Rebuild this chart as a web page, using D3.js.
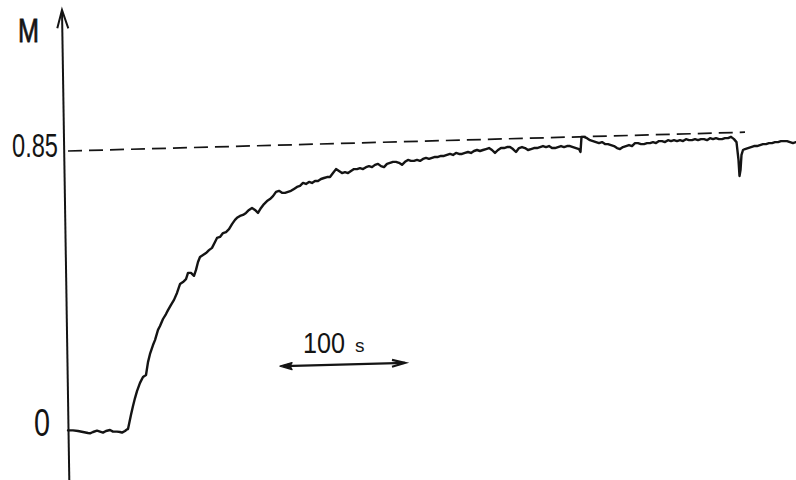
<!DOCTYPE html>
<html>
<head>
<meta charset="utf-8">
<script src="https://cdn.jsdelivr.net/npm/d3@7"></script>
<style>
  html, body { margin: 0; background: #fff; }
  svg { display: block; }
</style>
</head>
<body>
<svg id="chart" width="796" height="480"></svg>
<script>
// Recorded magnetisation trace: [time in s, M]
const trace = [
  [-48,0.002],[-44,0.002],[-40,0],[-36,-0.003],[-32,-0.006],[-30.4,-0.007],[-28,-0.003],
  [-24.8,0.001],[-22.4,-0.002],[-20,-0.005],[-17.6,0],[-14.4,0.003],[-12,-0.002],[-8.8,-0.002],
  [-6.4,-0.003],[-4.8,-0.005],[-2.4,0],[-0.8,0.005],
  [0,0.006],[2.4,0.049],[4,0.076],[5.6,0.100],[7.2,0.121],[9.6,0.146],[12,0.164],[14.4,0.170],
  [16,0.209],[17.6,0.234],[20,0.261],[21.6,0.276],[24,0.307],[25.6,0.319],[28,0.340],[30.4,0.355],
  [32,0.367],[34.4,0.383],[36.8,0.398],[39.2,0.419],[41.6,0.446],[44,0.452],[46.4,0.461],[48,0.480],
  [50.4,0.480],[52.8,0.471],[54.4,0.489],[56,0.513],[57.6,0.528],[60,0.534],[62.4,0.540],[64.8,0.549],
  [67.2,0.556],[69.6,0.574],[71.2,0.586],[73.6,0.589],[76,0.601],[78.4,0.604],[80.8,0.613],[83.2,0.628],
  [85.6,0.641],[87.2,0.647],[89.6,0.653],[92,0.656],[94.4,0.662],[96.8,0.671],[99.2,0.677],[101.6,0.671],
  [104,0.662],[106.4,0.677],[108.8,0.689],[111.2,0.698],[113.6,0.704],[116,0.713],[118.4,0.726],[120.8,0.729],
  [123.2,0.723],[125.6,0.723],[128,0.726],[130.4,0.729],[132.8,0.735],[135.2,0.741],[137.6,0.744],[140,0.753],
  [142.4,0.750],[144.8,0.756],[147.2,0.753],[149.6,0.759],[152,0.759],[154.4,0.765],[156.8,0.768],[159.2,0.771],
  [161.6,0.771],[164,0.783],[166.4,0.795],[168.8,0.789],[171.2,0.783],[173.6,0.786],[176,0.783],[178.4,0.789],
  [180.8,0.795],[183.2,0.795],[185.6,0.798],[188,0.795],[190.4,0.801],[192.8,0.804],[195.2,0.801],[197.6,0.808],
  [200,0.811],[202.4,0.804],[204.8,0.801],[207.2,0.811],[209.6,0.814],[212,0.817],[214.4,0.817],[216.8,0.814],
  [219.2,0.808],[221.6,0.817],[224,0.823],[226.4,0.820],[228.8,0.820],[231.2,0.823],[233.6,0.820],[236,0.826],
  [238.4,0.829],[240.8,0.826],[243.2,0.829],[245.6,0.832],[248,0.832],[250.4,0.835],[252.8,0.835],[255.2,0.838],
  [257.6,0.841],[260,0.838],[262.4,0.844],[264.8,0.841],[267.2,0.841],[269.6,0.844],[272,0.847],[274.4,0.844],
  [276.8,0.850],[279.2,0.853],[281.6,0.850],[284,0.853],[286.4,0.856],[288.8,0.859],[291.2,0.853],[293.6,0.844],
  [296,0.853],[298.4,0.859],[300.8,0.859],[303.2,0.862],[305.6,0.862],[308,0.856],[310.4,0.847],[312.8,0.859],
  [315.2,0.862],[317.6,0.859],[320,0.853],[322.4,0.856],[324.8,0.859],[327.2,0.859],[329.6,0.862],[332,0.865],
  [334.4,0.862],[336.8,0.865],[339.2,0.859],[341.6,0.859],[344,0.862],[346.4,0.865],[348.8,0.862],[351.2,0.865],
  [353.6,0.865],[356,0.862],[358.4,0.859],[360.8,0.856],[362,0.847],[362.8,0.893],[364.8,0.893],[367.2,0.889],
  [369.6,0.883],[372,0.880],[374.4,0.877],[376.8,0.874],[379.2,0.877],[381.6,0.871],[384,0.871],[386.4,0.868],
  [388.8,0.865],[391.2,0.859],[393.6,0.856],[396,0.862],[398.4,0.865],[400.8,0.868],[403.2,0.865],[405.6,0.874],
  [408,0.874],[410.4,0.871],[412.8,0.871],[415.2,0.874],[417.6,0.874],[420,0.877],[422.4,0.874],[424.8,0.880],
  [427.2,0.880],[429.6,0.877],[432,0.883],[434.4,0.880],[436.8,0.883],[439.2,0.880],[441.6,0.883],[444,0.880],
  [446.4,0.886],[448.8,0.883],[451.2,0.883],[453.6,0.886],[456,0.883],[458.4,0.886],[460.8,0.886],[463.2,0.883],
  [465.6,0.889],[468,0.886],[470.4,0.889],[472.8,0.886],[475.2,0.886],[477.6,0.889],[480,0.889],[482.4,0.893],
  [484.8,0.886],[486.8,0.877],[488.4,0.823],[489.2,0.774],[490,0.792],[490.8,0.838],[492,0.853],[493.6,0.856],
  [496,0.859],[498.4,0.862],[500.8,0.865],[503.2,0.865],[505.6,0.868],[508,0.871],[510.4,0.871],[512.8,0.874],
  [515.2,0.874],[517.6,0.877],[520,0.877],[522.4,0.880],[524.8,0.880],[527.2,0.880],[529.6,0.877],[532,0.874],
  [534.4,0.877]
];

// Hand-drawn saturation guide (dashed), [time in s, M]
const refLine = [[-48, 0.85], [493.6, 0.907]];

// Axis labelling
const tickValues = [0, 0.85];
const tickLabels = ["0", "0.85"];
const axisTitle = "M";

// Time scale bar
const scaleBarStart = 121.6;     // s
const scaleBarSpan = 100;        // s
const scaleBarLevel = [0.197, 0.207]; // M at left / right end
const scaleBarNumber = "100";
const scaleBarUnit = "s";

// ---------------------------------------------------------------
const ink = "#141414";
const font = "'Liberation Sans', Arial, sans-serif";

const svg = d3.select("#chart");
const x = d3.scaleLinear().domain([-49.6, 534.4]).range([66, 796]);
const y = d3.scaleLinear().domain([0, 0.85]).range([431, 151]);

// Vertical M axis with arrow head (drawn slightly leaning, as on the recorder chart)
const axisTop = [62, 10], axisBottom = [69.3, 480];
svg.append("path")
  .attr("d", `M${axisBottom[0]},${axisBottom[1]}L${axisTop[0]},${axisTop[1]}`)
  .attr("stroke", ink).attr("stroke-width", 2).attr("fill", "none");
svg.append("path")
  .attr("d", `M${axisTop[0] - 4.7},${axisTop[1] + 18.3}L${axisTop[0]},${axisTop[1]}L${axisTop[0] + 6.3},${axisTop[1] + 18.3}`)
  .attr("stroke", ink).attr("stroke-width", 2).attr("fill", "none")
  .attr("stroke-linejoin", "miter");

// Tick labels through d3.axisLeft
const yAxis = d3.axisLeft(y)
  .tickValues(tickValues)
  .tickFormat((d, i) => tickLabels[i])
  .tickSize(0);
const gy = svg.append("g")
  .attr("transform", "translate(64,0)")
  .attr("color", ink)
  .call(yAxis);
gy.select(".domain").remove();
gy.selectAll(".tick text")
  .attr("font-family", font)
  .attr("font-size", d => d === 0 ? 38 : 33)
  .attr("x", d => d === 0 ? -14 : -6)
  .attr("dy", d => d === 0 ? 4 : 5)
  .attr("textLength", d => d === 0 ? 16 : 46)
  .attr("lengthAdjust", "spacingAndGlyphs");

// Axis title
svg.append("text")
  .attr("x", 18).attr("y", 42)
  .attr("font-family", font).attr("font-size", 34)
  .attr("textLength", 21).attr("lengthAdjust", "spacingAndGlyphs")
  .attr("fill", ink).attr("stroke", ink).attr("stroke-width", 0.8)
  .text(axisTitle);

// Dashed guide line
svg.append("path")
  .datum(refLine)
  .attr("d", d3.line().x(d => x(d[0])).y(d => y(d[1])))
  .attr("fill", "none").attr("stroke", ink)
  .attr("stroke-width", 1.7).attr("stroke-dasharray", "14 7");

// Trace
svg.append("path")
  .datum(trace)
  .attr("d", d3.line().x(d => x(d[0])).y(d => y(d[1])))
  .attr("fill", "none").attr("stroke", ink)
  .attr("stroke-width", 2.4).attr("stroke-linejoin", "round").attr("stroke-linecap", "round");

// Scale bar: double-headed arrow spanning 100 s
const bx0 = x(scaleBarStart), bx1 = x(scaleBarStart + scaleBarSpan);
const by0 = y(scaleBarLevel[0]), by1 = y(scaleBarLevel[1]);
svg.append("line")
  .attr("x1", bx0 + 4).attr("y1", by0).attr("x2", bx1).attr("y2", by1)
  .attr("stroke", ink).attr("stroke-width", 2.2);
svg.append("path")
  .attr("d", `M${bx0},${by0}L${bx0 + 12},${by0 - 3.5}L${bx0 + 10},${by0}L${bx0 + 12},${by0 + 3.5}Z`)
  .attr("fill", ink).attr("stroke", ink).attr("stroke-width", 1.4).attr("stroke-linejoin", "round");
svg.append("path")
  .attr("d", `M${bx1 - 13},${by1 - 3}L${bx1},${by1}L${bx1 - 13},${by1 + 4}`)
  .attr("fill", "none").attr("stroke", ink).attr("stroke-width", 2.2);

svg.append("text")
  .attr("x", bx0 + 23).attr("y", by0 - 13)
  .attr("font-family", font).attr("font-size", 29)
  .attr("textLength", 42).attr("lengthAdjust", "spacingAndGlyphs")
  .attr("fill", ink)
  .text(scaleBarNumber);
svg.append("text")
  .attr("x", bx0 + 75).attr("y", by0 - 14)
  .attr("font-family", font).attr("font-size", 19)
  .attr("fill", ink)
  .text(scaleBarUnit);
</script>
</body>
</html>
